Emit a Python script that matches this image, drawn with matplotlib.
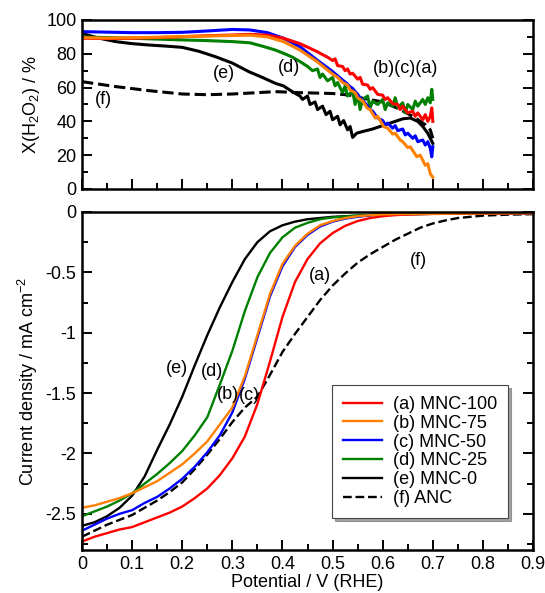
import numpy as np
import matplotlib
matplotlib.use('Agg')
import matplotlib.pyplot as plt
from matplotlib.ticker import MultipleLocator, FuncFormatter

plt.rcParams['font.family'] = 'Liberation Sans'
plt.rcParams['mathtext.default'] = 'regular'
plt.rcParams['axes.unicode_minus'] = False

names = ['(a) MNC-100', '(b) MNC-75', '(c) MNC-50', '(d) MNC-25', '(e) MNC-0', '(f) ANC']
colors = ['#ff0000', '#ff8000', '#0000ff', '#008000', '#000000', '#000000']

# ---- H2O2 selectivity (%) vs potential ----
h2o2_v_a = [0, 0.05, 0.1, 0.15, 0.2, 0.25, 0.3, 0.335, 0.37, 0.402, 0.435, 0.469, 0.48, 0.49, 0.5, 0.505,
            0.51, 0.52, 0.525, 0.53, 0.535, 0.54, 0.55, 0.555, 0.56, 0.57, 0.575, 0.58, 0.59, 0.6, 0.605,
            0.61, 0.62, 0.63, 0.635, 0.64, 0.65, 0.66, 0.665, 0.67, 0.68, 0.685, 0.69, 0.695, 0.698, 0.7]
h2o2_a = [89.2, 89.0, 89.2, 89.6, 90.1, 90.7, 91.1, 91.5, 91.0, 89.2, 86.0, 81.3, 79.5, 78, 76, 77,
          73, 72.5, 70, 71, 68, 68.5, 65, 66, 62, 61.5, 59, 60, 56, 55.5, 53,
          54, 50.5, 50, 47, 49, 45, 46, 43, 45, 41, 44, 40, 43, 48, 40]

h2o2_v_b = [0, 0.05, 0.1, 0.15, 0.2, 0.25, 0.3, 0.335, 0.37, 0.402, 0.435, 0.469, 0.5, 0.51, 0.52, 0.53,
            0.535, 0.545, 0.55, 0.56, 0.569, 0.575, 0.585, 0.59, 0.602, 0.61, 0.62, 0.625, 0.635, 0.64,
            0.65, 0.655, 0.668, 0.675, 0.685, 0.69, 0.695, 0.7]
h2o2_b = [89.5, 89.3, 89.5, 89.8, 90.2, 90.5, 90.8, 91.0, 90.0, 87.2, 82.2, 75.4, 68, 66, 63, 61.5,
          58.6, 57, 54, 52, 47.9, 47, 42, 43, 36.9, 36, 32.5, 33, 29, 28,
          24.5, 25, 19.1, 20, 14, 15, 9, 7]

h2o2_v_c = [0, 0.05, 0.1, 0.15, 0.2, 0.25, 0.3, 0.335, 0.37, 0.402, 0.435, 0.469, 0.5, 0.51, 0.52, 0.53,
            0.535, 0.54, 0.55, 0.555, 0.56, 0.57, 0.575, 0.58, 0.59, 0.6, 0.605, 0.61, 0.62, 0.625,
            0.63, 0.64, 0.645, 0.65, 0.66, 0.665, 0.67, 0.68, 0.685, 0.69, 0.695, 0.698, 0.7]
h2o2_c = [93.1, 92.8, 92.5, 92.5, 92.7, 93.5, 94.4, 94.1, 92.5, 89.2, 84.2, 76.3, 69.5, 67, 64.5, 62,
          60.5, 59.5, 56, 54, 52.5, 49, 47, 46, 42, 40.5, 38, 39, 36, 37.5,
          34.5, 35.5, 32, 33, 30, 31.5, 28, 29, 26, 28, 24, 19, 25]

h2o2_v_d = [0, 0.05, 0.1, 0.15, 0.2, 0.25, 0.3, 0.335, 0.36, 0.386, 0.402, 0.42, 0.435, 0.45, 0.46, 0.47,
            0.475, 0.48, 0.49, 0.5, 0.505, 0.51, 0.52, 0.525, 0.53, 0.54, 0.545, 0.55, 0.555, 0.56,
            0.57, 0.575, 0.58, 0.59, 0.6, 0.605, 0.61, 0.62, 0.625, 0.63, 0.64, 0.645, 0.65, 0.66,
            0.665, 0.67, 0.68, 0.685, 0.69, 0.695, 0.698, 0.7]
h2o2_d = [90.0, 89.6, 89.2, 88.7, 88.2, 87.8, 87.2, 86.5, 84.5, 82.2, 80.3, 78, 75.4, 72.5, 70, 71,
          66, 68, 64, 66, 61, 63, 57, 61, 55, 58, 50, 56, 47, 53,
          55, 48, 52, 50, 53, 47, 51, 49, 54, 48, 51, 45, 50, 47,
          52, 49, 53, 50, 54, 51, 59, 53]

h2o2_v_e = [0, 0.03, 0.067, 0.1, 0.133, 0.17, 0.2, 0.233, 0.266, 0.3, 0.333, 0.36, 0.386, 0.402, 0.42,
            0.435, 0.44, 0.45, 0.455, 0.465, 0.47, 0.48, 0.487, 0.495, 0.5, 0.51, 0.515, 0.522, 0.53,
            0.535, 0.54, 0.548, 0.56, 0.58, 0.6, 0.62, 0.64, 0.655, 0.67, 0.68, 0.69, 0.695, 0.7]
h2o2_e = [92.1, 89.5, 87.2, 86.0, 85.2, 84.5, 83.8, 81.5, 78.3, 74.5, 69.4, 66, 62.5, 61, 57.5,
          55, 53, 55, 50, 51.5, 47, 49, 44, 46, 41, 43, 38, 40.5, 35,
          37, 30.5, 33, 34, 35.5, 37.5, 39.5, 41.5, 42, 40, 37, 33, 30, 27]

h2o2_v_f = [0, 0.067, 0.133, 0.2, 0.25, 0.3, 0.35, 0.386, 0.435, 0.5, 0.535, 0.56, 0.6, 0.628, 0.648,
            0.668, 0.685, 0.695, 0.7]
h2o2_f = [63.5, 60.6, 58.2, 56.2, 55.8, 56.2, 57.0, 57.6, 57.0, 56.5, 55.5, 53.7, 51.5, 48, 45,
          41.5, 38, 35, 30]

# ---- LSV current density (mA cm-2) vs potential ----
lsv_v = [0, 0.025, 0.05, 0.075, 0.1, 0.125, 0.15, 0.175, 0.2, 0.225, 0.25, 0.275, 0.3, 0.325, 0.35,
         0.375, 0.4, 0.425, 0.45, 0.475, 0.5, 0.525, 0.55, 0.575, 0.6, 0.625, 0.65, 0.675, 0.7,
         0.725, 0.75, 0.8, 0.85, 0.9]
lsv_a = [-2.73, -2.69, -2.66, -2.63, -2.61, -2.57, -2.53, -2.49, -2.44, -2.37, -2.29, -2.18, -2.04, -1.86, -1.59,
         -1.24, -0.87, -0.58, -0.39, -0.26, -0.175, -0.115, -0.075, -0.05, -0.035, -0.026, -0.021, -0.018, -0.016,
         -0.015, -0.014, -0.012, -0.011, -0.01]
lsv_b = [-2.45, -2.43, -2.40, -2.37, -2.33, -2.28, -2.23, -2.16, -2.09, -2.00, -1.90, -1.76, -1.62, -1.36, -1.02,
         -0.68, -0.43, -0.28, -0.18, -0.11, -0.075, -0.05, -0.035, -0.027, -0.02, -0.018, -0.017, -0.016, -0.015,
         -0.014, -0.013, -0.012, -0.011, -0.01]
lsv_c = [-2.64, -2.59, -2.54, -2.50, -2.47, -2.41, -2.36, -2.29, -2.21, -2.11, -1.99, -1.85, -1.66, -1.38, -1.04,
         -0.70, -0.45, -0.29, -0.19, -0.12, -0.08, -0.055, -0.04, -0.028, -0.02, -0.018, -0.017, -0.016, -0.015,
         -0.014, -0.013, -0.012, -0.011, -0.01]
lsv_d = [-2.52, -2.48, -2.44, -2.39, -2.33, -2.25, -2.17, -2.08, -1.98, -1.85, -1.70, -1.43, -1.15, -0.82, -0.54,
         -0.34, -0.21, -0.13, -0.09, -0.06, -0.045, -0.037, -0.03, -0.025, -0.02, -0.018, -0.017, -0.016, -0.015,
         -0.014, -0.013, -0.012, -0.011, -0.01]
lsv_e = [-2.60, -2.57, -2.52, -2.45, -2.35, -2.19, -1.97, -1.76, -1.53, -1.27, -1.02, -0.79, -0.58, -0.39, -0.25,
         -0.16, -0.11, -0.08, -0.06, -0.05, -0.04, -0.035, -0.03, -0.025, -0.02, -0.018, -0.017, -0.016, -0.015,
         -0.014, -0.013, -0.012, -0.011, -0.01]
lsv_f = [-2.69, -2.64, -2.59, -2.55, -2.51, -2.45, -2.39, -2.32, -2.24, -2.13, -2.01, -1.88, -1.74, -1.62, -1.53,
         -1.35, -1.16, -1.01, -0.87, -0.73, -0.61, -0.51, -0.42, -0.35, -0.29, -0.23, -0.18, -0.13, -0.095,
         -0.07, -0.05, -0.03, -0.022, -0.018]

top_v = [h2o2_v_a, h2o2_v_b, h2o2_v_c, h2o2_v_d, h2o2_v_e, h2o2_v_f]
top_y = [h2o2_a, h2o2_b, h2o2_c, h2o2_d, h2o2_e, h2o2_f]
bot_y = [lsv_a, lsv_b, lsv_c, lsv_d, lsv_e, lsv_f]
styles = ['-', '-', '-', '-', '-', '--']

fig = plt.figure(figsize=(5.45, 5.93), dpi=100)
ax1 = fig.add_axes([0.1505, 0.6813, 0.8275, 0.285])
ax2 = fig.add_axes([0.1505, 0.0725, 0.8275, 0.570])


def style_axis(ax):
    for s in ax.spines.values():
        s.set_linewidth(1.8)
    ax.tick_params(which='both', direction='in', top=False, right=True, width=1.4, labelsize=13, pad=4)
    ax.tick_params(which='major', length=7)
    ax.tick_params(which='minor', length=4)
    ax.xaxis.set_major_locator(MultipleLocator(0.1))
    ax.xaxis.set_minor_locator(MultipleLocator(0.05))


# draw order: green/black/dashed underneath, red/blue/orange on top
order = [5, 4, 3, 2, 0, 1]

for i in order:
    ax1.plot(top_v[i], top_y[i], color=colors[i], ls=styles[i], lw=2.2)
ax1.set_xlim(0, 0.9)
ax1.set_ylim(0, 100)
ax1.yaxis.set_major_locator(MultipleLocator(20))
ax1.yaxis.set_minor_locator(MultipleLocator(10))
style_axis(ax1)
ax1.set_xticklabels([])
ax1.set_ylabel('X(H$_2$O$_2$) / %', fontsize=13, labelpad=3)
ax1.text(0.283, 68.5, '(e)', fontsize=13, ha='center', va='center')
ax1.text(0.414, 71.8, '(d)', fontsize=13, ha='center', va='center')
ax1.text(0.645, 71.4, '(b)(c)(a)', fontsize=13, ha='center', va='center')
ax1.text(0.043, 52.7, '(f)', fontsize=13, ha='center', va='center')

lines = {}
for i in order:
    lines[i], = ax2.plot(lsv_v, bot_y[i], color=colors[i], ls=styles[i], lw=1.7, label=names[i])
ax2.set_xlim(0, 0.9)
ax2.set_ylim(-2.8, 0)
ax2.yaxis.set_major_locator(MultipleLocator(0.5))
ax2.yaxis.set_minor_locator(MultipleLocator(0.25))
ax2.yaxis.set_major_formatter(FuncFormatter(lambda v, p: '%g' % v))
ax2.xaxis.set_major_formatter(FuncFormatter(lambda v, p: '%g' % round(v, 2)))
style_axis(ax2)
ax2.set_xlabel('Potential / V (RHE)', fontsize=13, labelpad=1)
ax2.set_ylabel('Current density / mA cm$^{-2}$', fontsize=13, labelpad=4)
ax2.text(0.475, -0.53, '(a)', fontsize=13, ha='center', va='center')
ax2.text(0.671, -0.40, '(f)', fontsize=13, ha='center', va='center')
ax2.text(0.189, -1.30, '(e)', fontsize=13, ha='center', va='center')
ax2.text(0.259, -1.32, '(d)', fontsize=13, ha='center', va='center')
ax2.text(0.292, -1.51, '(b)', fontsize=13, ha='center', va='center')
ax2.text(0.335, -1.52, '(c)', fontsize=13, ha='center', va='center')

leg = ax2.legend([lines[i] for i in range(6)], names, loc='upper left',
                 bbox_to_anchor=(0.554, 0.488), borderaxespad=0, fontsize=13,
                 frameon=True, fancybox=False, shadow=True, edgecolor='#444444',
                 framealpha=1, handlelength=2.2, handletextpad=0.6, labelspacing=0.1,
                 borderpad=0.6)
leg.get_frame().set_linewidth(0.8)

fig.savefig('out.png', dpi=100)
